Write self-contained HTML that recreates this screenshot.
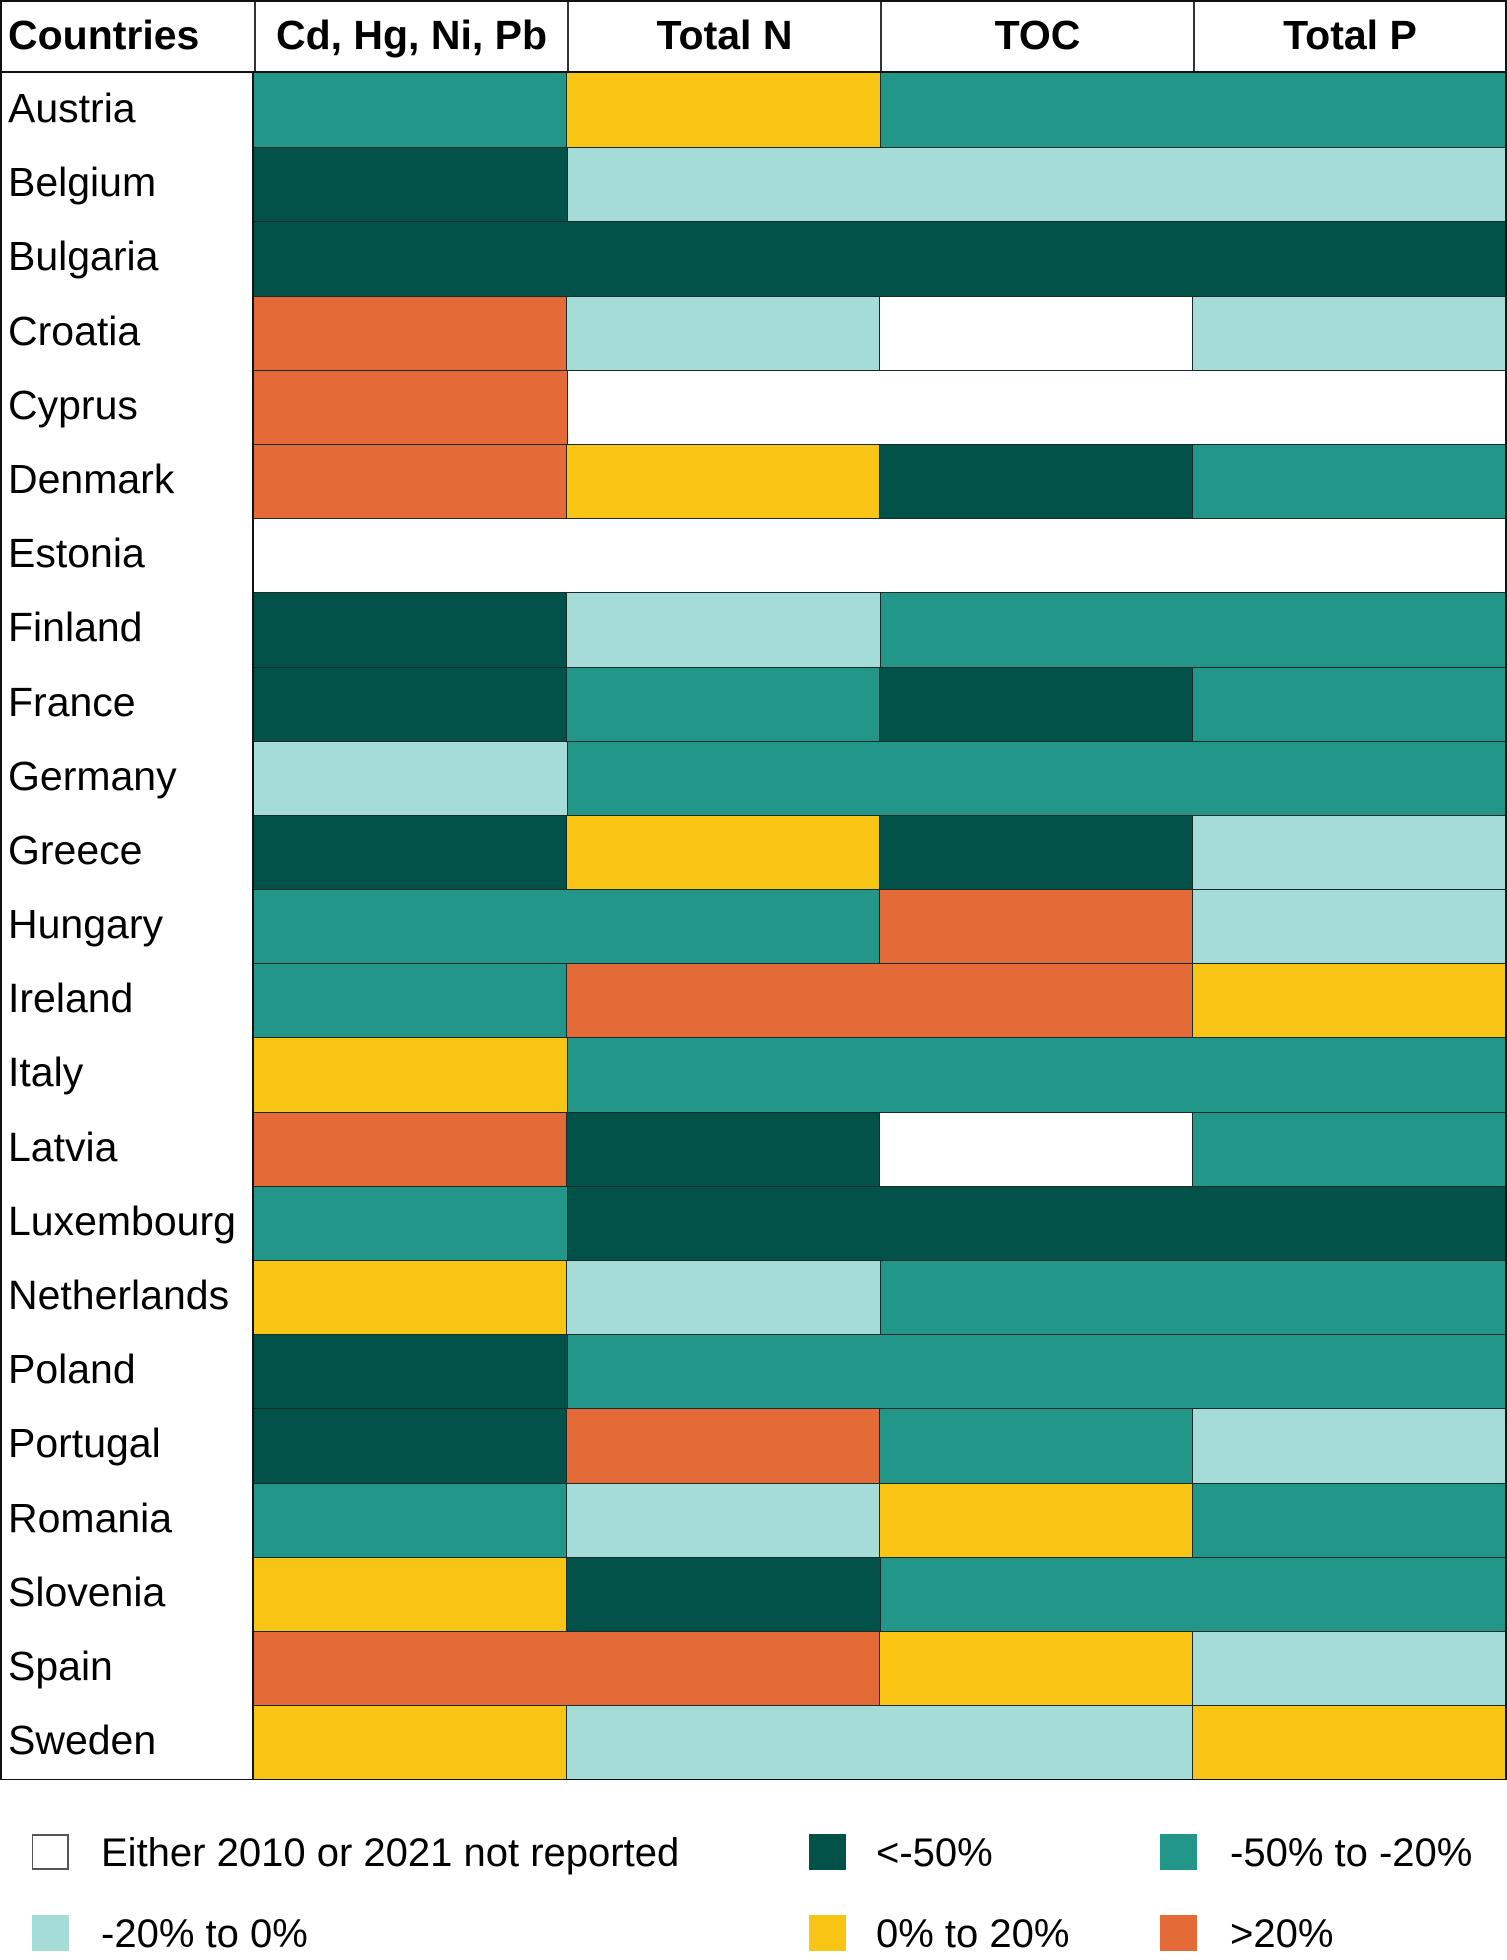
<!DOCTYPE html>
<html><head><meta charset="utf-8"><style>
*{margin:0;padding:0;box-sizing:border-box}
body{width:1507px;height:1960px;background:#fff;font-family:"Liberation Sans","DejaVu Sans",sans-serif;position:relative;overflow:hidden}
#tbl{position:absolute;left:0;top:0;width:1507px;height:1780px;border:2px solid #111}
.hdr{display:flex;height:71px;border-bottom:2px solid #111}
.hdr div{font-weight:bold;font-size:41px;line-height:66px;text-align:center;border-left:2px solid #333;width:313px}
.hdr div.c0{width:252px;border-left:none;text-align:left;padding-left:6px}
.row{display:flex;height:74.2px}
.lab{width:252px;font-size:41px;line-height:70px;padding-left:6px;border-right:2px solid #111;background:#fff;white-space:nowrap}
.s{height:100%;border-top:1px solid #1a2a28}
.row:nth-child(2) .s{border-top:none}
.s+.s{border-left:1px solid #1a2a28}
.D{background:#03524a}.T{background:#23968a}.L{background:#a6dcd7}.Y{background:#f8c515}.O{background:#e46a37}.W{background:#fff}
.f1{flex:1}.f2{flex:2}.f3{flex:3}.f4{flex:4}
.leg{position:absolute;width:37px;height:36px}
.lt{position:absolute;font-size:40px;line-height:40px;white-space:nowrap}
</style></head><body>
<div id="tbl">
<div class="hdr"><div class="c0">Countries</div><div>Cd, Hg, Ni, Pb</div><div>Total N</div><div>TOC</div><div style="width:312px">Total P</div></div>
<div class="row"><div class="lab">Austria</div><div class="s f1 T"></div><div class="s f1 Y"></div><div class="s f2 T"></div></div>
<div class="row"><div class="lab">Belgium</div><div class="s f1 D"></div><div class="s f3 L"></div></div>
<div class="row"><div class="lab">Bulgaria</div><div class="s f4 D"></div></div>
<div class="row"><div class="lab">Croatia</div><div class="s f1 O"></div><div class="s f1 L"></div><div class="s f1 W"></div><div class="s f1 L"></div></div>
<div class="row"><div class="lab">Cyprus</div><div class="s f1 O"></div><div class="s f3 W"></div></div>
<div class="row"><div class="lab">Denmark</div><div class="s f1 O"></div><div class="s f1 Y"></div><div class="s f1 D"></div><div class="s f1 T"></div></div>
<div class="row"><div class="lab">Estonia</div><div class="s f4 W"></div></div>
<div class="row"><div class="lab">Finland</div><div class="s f1 D"></div><div class="s f1 L"></div><div class="s f2 T"></div></div>
<div class="row"><div class="lab">France</div><div class="s f1 D"></div><div class="s f1 T"></div><div class="s f1 D"></div><div class="s f1 T"></div></div>
<div class="row"><div class="lab">Germany</div><div class="s f1 L"></div><div class="s f3 T"></div></div>
<div class="row"><div class="lab">Greece</div><div class="s f1 D"></div><div class="s f1 Y"></div><div class="s f1 D"></div><div class="s f1 L"></div></div>
<div class="row"><div class="lab">Hungary</div><div class="s f2 T"></div><div class="s f1 O"></div><div class="s f1 L"></div></div>
<div class="row"><div class="lab">Ireland</div><div class="s f1 T"></div><div class="s f2 O"></div><div class="s f1 Y"></div></div>
<div class="row"><div class="lab">Italy</div><div class="s f1 Y"></div><div class="s f3 T"></div></div>
<div class="row"><div class="lab">Latvia</div><div class="s f1 O"></div><div class="s f1 D"></div><div class="s f1 W"></div><div class="s f1 T"></div></div>
<div class="row"><div class="lab">Luxembourg</div><div class="s f1 T"></div><div class="s f3 D"></div></div>
<div class="row"><div class="lab">Netherlands</div><div class="s f1 Y"></div><div class="s f1 L"></div><div class="s f2 T"></div></div>
<div class="row"><div class="lab">Poland</div><div class="s f1 D"></div><div class="s f3 T"></div></div>
<div class="row"><div class="lab">Portugal</div><div class="s f1 D"></div><div class="s f1 O"></div><div class="s f1 T"></div><div class="s f1 L"></div></div>
<div class="row"><div class="lab">Romania</div><div class="s f1 T"></div><div class="s f1 L"></div><div class="s f1 Y"></div><div class="s f1 T"></div></div>
<div class="row"><div class="lab">Slovenia</div><div class="s f1 Y"></div><div class="s f1 D"></div><div class="s f2 T"></div></div>
<div class="row"><div class="lab">Spain</div><div class="s f2 O"></div><div class="s f1 Y"></div><div class="s f1 L"></div></div>
<div class="row"><div class="lab">Sweden</div><div class="s f1 Y"></div><div class="s f2 L"></div><div class="s f1 Y"></div></div>
</div>
<div class="leg W" style="left:32px;top:1834px;border:2px solid #555;border-left-width:1px"></div>
<div class="lt" style="left:101px;top:1833px">Either 2010 or 2021 not reported</div>
<div class="leg D" style="left:809px;top:1834px"></div>
<div class="lt" style="left:876px;top:1833px">&lt;-50%</div>
<div class="leg T" style="left:1160px;top:1834px"></div>
<div class="lt" style="left:1230px;top:1833px">-50% to -20%</div>
<div class="leg L" style="left:32px;top:1915px"></div>
<div class="lt" style="left:101px;top:1914px">-20% to 0%</div>
<div class="leg Y" style="left:809px;top:1915px"></div>
<div class="lt" style="left:876px;top:1914px">0% to 20%</div>
<div class="leg O" style="left:1160px;top:1915px"></div>
<div class="lt" style="left:1230px;top:1914px">&gt;20%</div>
</body></html>
